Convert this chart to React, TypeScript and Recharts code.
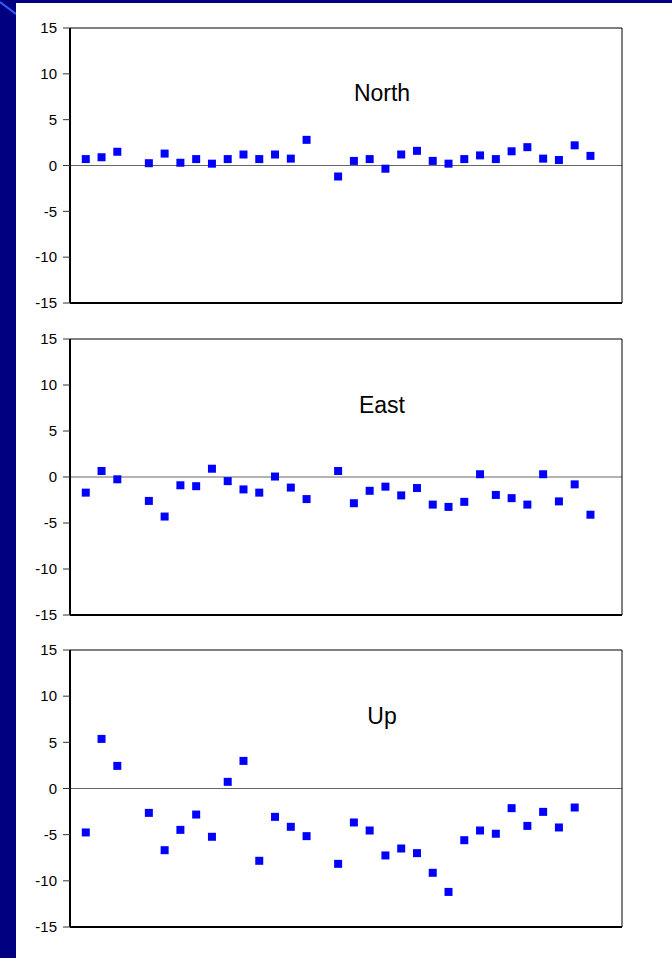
import { ScatterChart, Scatter, XAxis, YAxis, ZAxis, ReferenceLine } from 'recharts';

const northDays = [1, 2, 3, 5, 6, 7, 8, 9, 10, 11, 12, 13, 14, 15, 17, 18, 19, 20, 21, 22, 23, 24, 25, 26, 27, 28, 29, 30, 31, 32, 33];
const northValues = [0.7, 0.9, 1.5, 0.25, 1.3, 0.3, 0.7, 0.2, 0.7, 1.2, 0.7, 1.2, 0.75, 2.8, -1.2, 0.5, 0.7, -0.35, 1.2, 1.6, 0.5, 0.2, 0.7, 1.1, 0.7, 1.55, 2.0, 0.75, 0.6, 2.2, 1.05];

const eastDays = [1, 2, 3, 5, 6, 7, 8, 9, 10, 11, 12, 13, 14, 15, 17, 18, 19, 20, 21, 22, 23, 24, 25, 26, 27, 28, 29, 30, 31, 32, 33];
const eastValues = [-1.7, 0.65, -0.25, -2.6, -4.3, -0.9, -1.0, 0.9, -0.45, -1.35, -1.7, 0.05, -1.15, -2.4, 0.65, -2.85, -1.5, -1.05, -2.0, -1.2, -3.0, -3.25, -2.7, 0.3, -1.95, -2.3, -3.0, 0.3, -2.65, -0.8, -4.1];

const upDays = [1, 2, 3, 5, 6, 7, 8, 9, 10, 11, 12, 13, 14, 15, 17, 18, 19, 20, 21, 22, 23, 24, 25, 26, 27, 28, 29, 30, 31, 32];
const upValues = [-4.76, 5.37, 2.45, -2.64, -6.68, -4.48, -2.82, -5.23, 0.72, 2.99, -7.83, -3.07, -4.15, -5.16, -8.16, -3.68, -4.55, -7.25, -6.5, -7.0, -9.13, -11.2, -5.6, -4.55, -4.9, -2.13, -4.05, -2.53, -4.22, -2.06];

const yTicks = [-15, -10, -5, 0, 5, 10, 15];

const FONT = '"Liberation Sans", Arial, sans-serif';

interface PanelProps {
  title: string;
  days: number[];
  values: number[];
  top: number;
  height: number;
  marginTop: number;
  marginBottom: number;
  titleY: number;
}

function Panel({ title, days, values, top, height, marginTop, marginBottom, titleY }: PanelProps) {
  const data = days.map((d, i) => ({ x: d, y: values[i] }));
  return (
    <div style={{ position: 'absolute', left: 0, top, width: 672, height }}>
      <ScatterChart width={672} height={height} margin={{ top: marginTop, right: 0, bottom: marginBottom, left: 16 }}>
        <XAxis type='number' dataKey='x' domain={[0, 35]} hide />
        <YAxis
          yAxisId='left'
          type='number'
          dataKey='y'
          domain={[-15, 15]}
          ticks={yTicks}
          width={54}
          tickSize={7}
          tickMargin={6}
          axisLine={{ stroke: '#000', strokeWidth: 2 }}
          tickLine={{ stroke: '#333' }}
          tick={{ fill: '#000', fontSize: 15, fontFamily: FONT }}
          interval={0}
        />
        <YAxis
          yAxisId='right'
          orientation='right'
          type='number'
          domain={[-15, 15]}
          ticks={yTicks}
          width={50}
          tickSize={6}
          tickMargin={30}
          axisLine={{ stroke: '#000', strokeWidth: 1 }}
          tickLine={{ stroke: '#999' }}
          tick={{ fill: '#000', fontSize: 15, fontFamily: FONT, textAnchor: 'end' }}
          interval={0}
        />
        <ZAxis range={[38, 38]} />
        <ReferenceLine yAxisId='left' y={0} stroke='#666' strokeWidth={1} />
        <ReferenceLine yAxisId='left' y={15} stroke='#000' strokeWidth={1} />
        <ReferenceLine yAxisId='left' y={-15} stroke='#000' strokeWidth={2} />
        <Scatter yAxisId='left' data={data} fill='#0000ff' shape='square' isAnimationActive={false} />
      </ScatterChart>
      <div
        style={{
          position: 'absolute',
          left: 282,
          width: 200,
          top: titleY - top - 21,
          textAlign: 'center',
          fontFamily: FONT,
          fontSize: 23,
          lineHeight: '26px',
          color: '#000',
        }}
      >
        {title}
      </div>
    </div>
  );
}

export default function App() {
  return (
    <div style={{ position: 'absolute', left: 0, top: 0, width: 672, height: 958, background: '#000080', overflow: 'hidden' }}>
      <svg width={20} height={20} style={{ position: 'absolute', left: 0, top: 0 }}>
        <line x1={0} y1={2} x2={16} y2={14} stroke='#3a5cff' strokeWidth={2} />
      </svg>
      <div style={{ position: 'absolute', left: 16, top: 3, width: 656, height: 955, background: '#fff' }} />
      <Panel title='North' days={northDays} values={northValues} top={0} height={320} marginTop={28} marginBottom={17} titleY={101} />
      <Panel title='East' days={eastDays} values={eastValues} top={320} height={310} marginTop={19} marginBottom={15} titleY={413} />
      <Panel title='Up' days={upDays} values={upValues} top={630} height={328} marginTop={20} marginBottom={31} titleY={724} />
    </div>
  );
}
